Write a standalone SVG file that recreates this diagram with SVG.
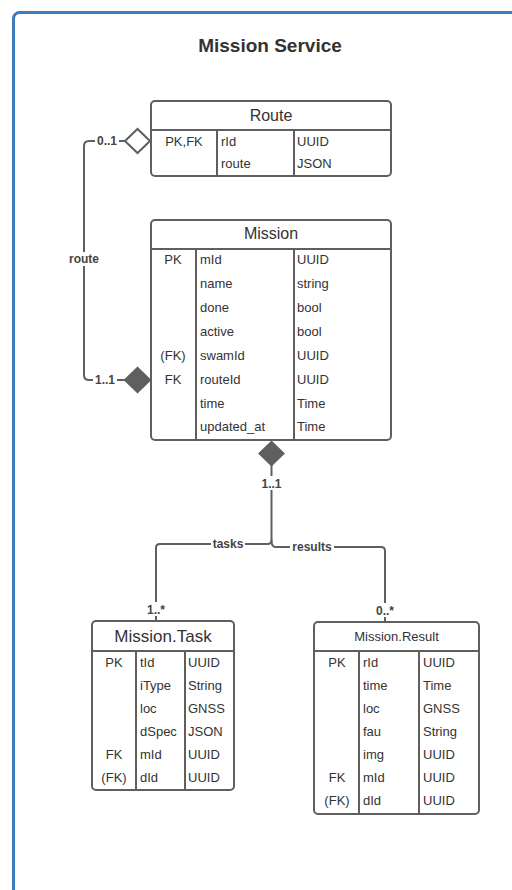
<svg xmlns="http://www.w3.org/2000/svg" width="512" height="890" viewBox="0 0 512 890">
  <style>
    .frame { fill: #ffffff; stroke: #3b7dbf; stroke-width: 3; }
    .box { fill: #ffffff; stroke: #5f5f5f; stroke-width: 2; }
    .ln { fill: none; stroke: #5f5f5f; stroke-width: 2; }
    .t { font-family: "Liberation Sans", Arial, sans-serif; font-size: 13px; fill: #333333; }
    .c { text-anchor: middle; }
    .hd { font-family: "Liberation Sans", Arial, sans-serif; font-size: 16px; fill: #333333; text-anchor: middle; }
    .lbl { font-family: "Liberation Sans", Arial, sans-serif; font-size: 12px; font-weight: bold; fill: #444444; text-anchor: middle; }
    .bg { fill: #ffffff; }
    .title { font-family: "Liberation Sans", Arial, sans-serif; font-size: 19px; font-weight: bold; fill: #333333; text-anchor: middle; }
  </style>

  <rect width="512" height="890" fill="#ffffff"/>
  <rect class="frame" x="13.5" y="12.5" width="520" height="900" rx="6"/>
  <text class="title" x="270" y="52">Mission Service</text>

  <!-- connectors -->
  <g id="connectors">
    <!-- Route 0..1 — 1..1 Mission -->
    <path class="ln" d="M125,141 H89 Q84,141 84,146 V375 Q84,380 89,380 H125"/>
    <rect class="bg" x="95" y="134" width="24" height="14"/>
    <text class="lbl" x="107" y="145">0..1</text>
    <rect class="bg" x="67" y="252" width="34" height="14"/>
    <text class="lbl" x="84" y="263">route</text>
    <rect class="bg" x="93" y="373" width="24" height="14"/>
    <text class="lbl" x="105" y="384">1..1</text>
    <polygon points="125,141 137.5,129 150,141 137.5,153" fill="#ffffff" stroke="#5f5f5f" stroke-width="2"/>
    <polygon points="125,380 137.5,368 150,380 137.5,392" fill="#5f5f5f" stroke="#5f5f5f" stroke-width="2"/>

    <!-- Mission 1..1 — tasks / results -->
    <polygon points="259.5,453.5 271.5,442 283.5,453.5 271.5,465" fill="#5f5f5f" stroke="#5f5f5f" stroke-width="2"/>
    <path class="ln" d="M271.5,465 V540 Q271.5,544 267.5,544 H160 Q156,544 156,548 V621"/>
    <path class="ln" d="M271.5,540 Q271.5,547 275.5,547 H381 Q385,547 385,551 V622"/>
    <rect class="bg" x="258" y="476" width="27" height="14"/>
    <text class="lbl" x="271.5" y="488">1..1</text>
    <rect class="bg" x="211" y="537" width="34" height="14"/>
    <text class="lbl" x="228" y="548">tasks</text>
    <rect class="bg" x="290" y="540" width="44" height="14"/>
    <text class="lbl" x="312" y="551">results</text>
    <rect class="bg" x="143" y="602" width="26" height="14"/>
    <text class="lbl" x="156" y="614">1..*</text>
    <rect class="bg" x="372" y="603" width="26" height="14"/>
    <text class="lbl" x="385" y="615">0..*</text>
  </g>

  <!-- Route -->
  <g id="route">
    <rect class="box" x="151" y="101" width="240" height="75" rx="4"/>
    <line class="ln" x1="151" y1="130" x2="391" y2="130"/>
    <line class="ln" x1="217" y1="130" x2="217" y2="176"/>
    <line class="ln" x1="294" y1="130" x2="294" y2="176"/>
    <text class="hd" x="271" y="121">Route</text>
    <text class="t c" x="184" y="146">PK,FK</text>
    <text class="t" x="221" y="146">rId</text>
    <text class="t" x="297" y="146">UUID</text>
    <text class="t" x="221" y="168">route</text>
    <text class="t" x="297" y="168">JSON</text>
  </g>

  <!-- Mission -->
  <g id="mission">
    <rect class="box" x="151" y="220" width="240" height="220" rx="4"/>
    <line class="ln" x1="151" y1="249" x2="391" y2="249"/>
    <line class="ln" x1="196" y1="249" x2="196" y2="440"/>
    <line class="ln" x1="294" y1="249" x2="294" y2="440"/>
    <text class="hd" x="271" y="239">Mission</text>
    <text class="t c" x="173" y="264">PK</text>
    <text class="t" x="200" y="264">mId</text>
    <text class="t" x="297" y="264">UUID</text>
    <text class="t" x="200" y="288">name</text>
    <text class="t" x="297" y="288">string</text>
    <text class="t" x="200" y="312">done</text>
    <text class="t" x="297" y="312">bool</text>
    <text class="t" x="200" y="336">active</text>
    <text class="t" x="297" y="336">bool</text>
    <text class="t c" x="173" y="360">(FK)</text>
    <text class="t" x="200" y="360">swamId</text>
    <text class="t" x="297" y="360">UUID</text>
    <text class="t c" x="173" y="384">FK</text>
    <text class="t" x="200" y="384">routeId</text>
    <text class="t" x="297" y="384">UUID</text>
    <text class="t" x="200" y="408">time</text>
    <text class="t" x="297" y="408">Time</text>
    <text class="t" x="200" y="431">updated_at</text>
    <text class="t" x="297" y="431">Time</text>
  </g>

  <!-- Mission.Task -->
  <g id="mission-task">
    <rect class="box" x="92" y="621" width="142" height="169" rx="4"/>
    <line class="ln" x1="92" y1="651" x2="234" y2="651"/>
    <line class="ln" x1="136" y1="651" x2="136" y2="790"/>
    <line class="ln" x1="185" y1="651" x2="185" y2="790"/>
    <text class="hd" x="163" y="642" style="font-size:17px">Mission.Task</text>
    <text class="t c" x="114" y="667">PK</text>
    <text class="t" x="140" y="667">tId</text>
    <text class="t" x="188" y="667">UUID</text>
    <text class="t" x="140" y="690">iType</text>
    <text class="t" x="188" y="690">String</text>
    <text class="t" x="140" y="713">loc</text>
    <text class="t" x="188" y="713">GNSS</text>
    <text class="t" x="140" y="736">dSpec</text>
    <text class="t" x="188" y="736">JSON</text>
    <text class="t c" x="114" y="759">FK</text>
    <text class="t" x="140" y="759">mId</text>
    <text class="t" x="188" y="759">UUID</text>
    <text class="t c" x="114" y="782">(FK)</text>
    <text class="t" x="140" y="782">dId</text>
    <text class="t" x="188" y="782">UUID</text>
  </g>

  <!-- Mission.Result -->
  <g id="mission-result">
    <rect class="box" x="314" y="622" width="165" height="192" rx="4"/>
    <line class="ln" x1="314" y1="651" x2="479" y2="651"/>
    <line class="ln" x1="359" y1="651" x2="359" y2="814"/>
    <line class="ln" x1="419" y1="651" x2="419" y2="814"/>
    <text class="hd" x="396.5" y="641" style="font-size:13px">Mission.Result</text>
    <text class="t c" x="337" y="667">PK</text>
    <text class="t" x="363" y="667">rId</text>
    <text class="t" x="423" y="667">UUID</text>
    <text class="t" x="363" y="690">time</text>
    <text class="t" x="423" y="690">Time</text>
    <text class="t" x="363" y="713">loc</text>
    <text class="t" x="423" y="713">GNSS</text>
    <text class="t" x="363" y="736">fau</text>
    <text class="t" x="423" y="736">String</text>
    <text class="t" x="363" y="759">img</text>
    <text class="t" x="423" y="759">UUID</text>
    <text class="t c" x="337" y="782">FK</text>
    <text class="t" x="363" y="782">mId</text>
    <text class="t" x="423" y="782">UUID</text>
    <text class="t c" x="337" y="805">(FK)</text>
    <text class="t" x="363" y="805">dId</text>
    <text class="t" x="423" y="805">UUID</text>
  </g>
</svg>
